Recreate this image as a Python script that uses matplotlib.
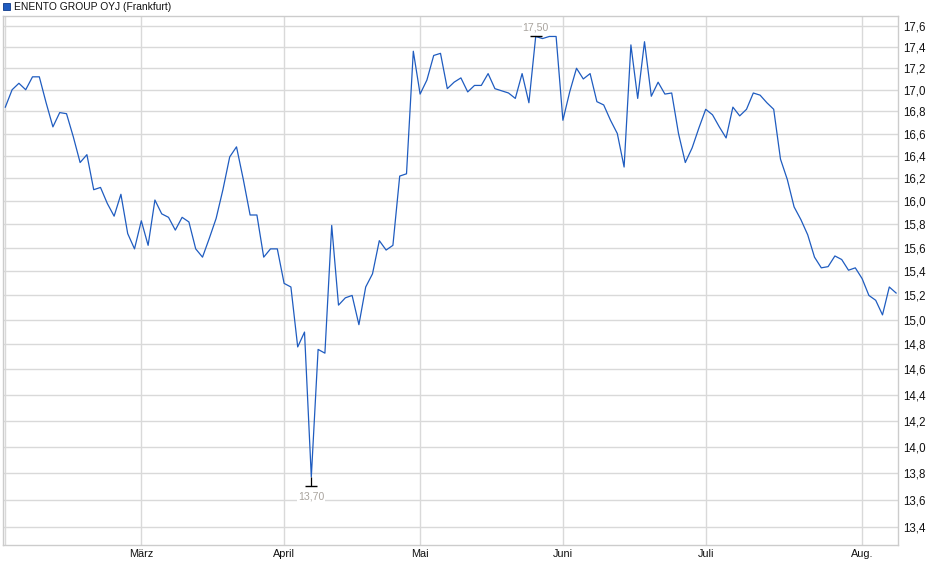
import matplotlib
matplotlib.use("Agg")
import matplotlib.pyplot as plt
from matplotlib.ticker import FixedLocator, FuncFormatter, NullLocator

plt.rcParams["font.family"] = ["Liberation Sans", "DejaVu Sans"]

# Schlusskurse je Handelstag (3. Feb. bis 8. Aug.)
close = [16.84, 17.00, 17.06, 17.00, 17.12, 17.12, 16.88, 16.66, 16.79, 16.78,
         16.57, 16.34, 16.41, 16.10, 16.12, 15.98, 15.87, 16.06, 15.72, 15.59,
         15.83, 15.62, 16.01, 15.89, 15.86, 15.75, 15.86, 15.82, 15.59, 15.52,
         15.68, 15.85, 16.10, 16.39, 16.48, 16.19, 15.88, 15.88, 15.52, 15.59,
         15.59, 15.30, 15.27, 14.78, 14.90, 13.77, 14.76, 14.73, 15.79, 15.12,
         15.18, 15.20, 14.96, 15.27, 15.38, 15.66, 15.58, 15.62, 16.22, 16.24,
         17.36, 16.96, 17.09, 17.32, 17.34, 17.01, 17.07, 17.11, 16.98, 17.04,
         17.04, 17.15, 17.01, 16.99, 16.97, 16.92, 17.15, 16.88, 17.50, 17.48,
         17.50, 17.50, 16.72, 16.98, 17.20, 17.10, 17.15, 16.89, 16.86, 16.72,
         16.60, 16.30, 17.42, 16.92, 17.45, 16.94, 17.07, 16.96, 16.97, 16.60,
         16.34, 16.47, 16.65, 16.82, 16.77, 16.66, 16.56, 16.84, 16.76, 16.82,
         16.97, 16.95, 16.88, 16.82, 16.37, 16.19, 15.95, 15.84, 15.71, 15.52,
         15.43, 15.44, 15.53, 15.50, 15.41, 15.43, 15.34, 15.20, 15.16, 15.04,
         15.27, 15.22]

month_pos = [0, 20, 41, 61, 82, 103, 126]          # erster Handelstag je Monat
month_lab = ["", "März", "April", "Mai", "Juni", "Juli", "Aug."]
y_ticks = [13.4, 13.6, 13.8, 14.0, 14.2, 14.4, 14.6, 14.8, 15.0, 15.2,
           15.4, 15.6, 15.8, 16.0, 16.2, 16.4, 16.6, 16.8, 17.0, 17.2,
           17.4, 17.6]
hi_idx, hi_val = 78, 17.50
lo_idx, lo_val = 45, 13.70

LINE = "#1f5cc0"
GRID = "#d9d9d9"

fig = plt.figure(figsize=(9.4, 5.79), dpi=100)
ax = fig.add_axes([3 / 940, 34 / 579, 895 / 940, 529 / 579])

ax.plot(range(len(close)), close, color=LINE, lw=0.9, zorder=3)

# Hoch / Tief-Markierung
ax.vlines(hi_idx, close[hi_idx], hi_val, color="black", lw=0.9, zorder=4)
ax.plot(hi_idx, hi_val, marker="_", ms=8, mew=1.0, color="black", zorder=4)
ax.vlines(lo_idx, lo_val, close[lo_idx], color="black", lw=0.9, zorder=4)
ax.plot(lo_idx, lo_val, marker="_", ms=8, mew=1.0, color="black", zorder=4)
bbox = dict(facecolor="white", edgecolor="none", pad=0.6)
ax.annotate(("%.2f" % hi_val).replace(".", ","), (hi_idx, hi_val), xytext=(0, 6.3),
            textcoords="offset points", ha="center", va="center",
            fontsize=7.6, color="#a9a49e", bbox=bbox, zorder=5)
ax.annotate(("%.2f" % lo_val).replace(".", ","), (lo_idx, lo_val), xytext=(0, -7.5),
            textcoords="offset points", ha="center", va="center",
            fontsize=7.6, color="#a9a49e", bbox=bbox, zorder=5)

ax.set_yscale("log")
ax.set_ylim(13.27, 17.696)
ax.set_xlim(-0.34, 131.28)
ax.yaxis.set_major_locator(FixedLocator(y_ticks))
ax.yaxis.set_minor_locator(NullLocator())
ax.yaxis.set_major_formatter(FuncFormatter(lambda v, p: ("%.1f" % v).replace(".", ",")))
ax.yaxis.tick_right()
ax.set_xticks(month_pos)
ax.set_xticklabels(month_lab)

ax.grid(True, color=GRID, lw=1.0, zorder=0)
ax.set_axisbelow(True)
for s in ax.spines.values():
    s.set_color("#cccccc")
    s.set_linewidth(1.0)
ax.tick_params(axis="y", length=0, pad=3.5, labelsize=8.3, colors="#111111")
ax.tick_params(axis="x", length=0, pad=3, labelsize=7.8, colors="#111111")

# Legende oben links
fig.patches.append(plt.Rectangle((3 / 940, 1 - 10 / 579), 7 / 940, 7 / 579,
                                 transform=fig.transFigure, facecolor=LINE,
                                 edgecolor="#0d3a8a", lw=0.6))
fig.text(14 / 940, 1 - 6.5 / 579, "ENENTO GROUP OYJ (Frankfurt)", fontsize=7.4,
         va="center", ha="left", color="#111111")

fig.savefig("out.png", dpi=100)
